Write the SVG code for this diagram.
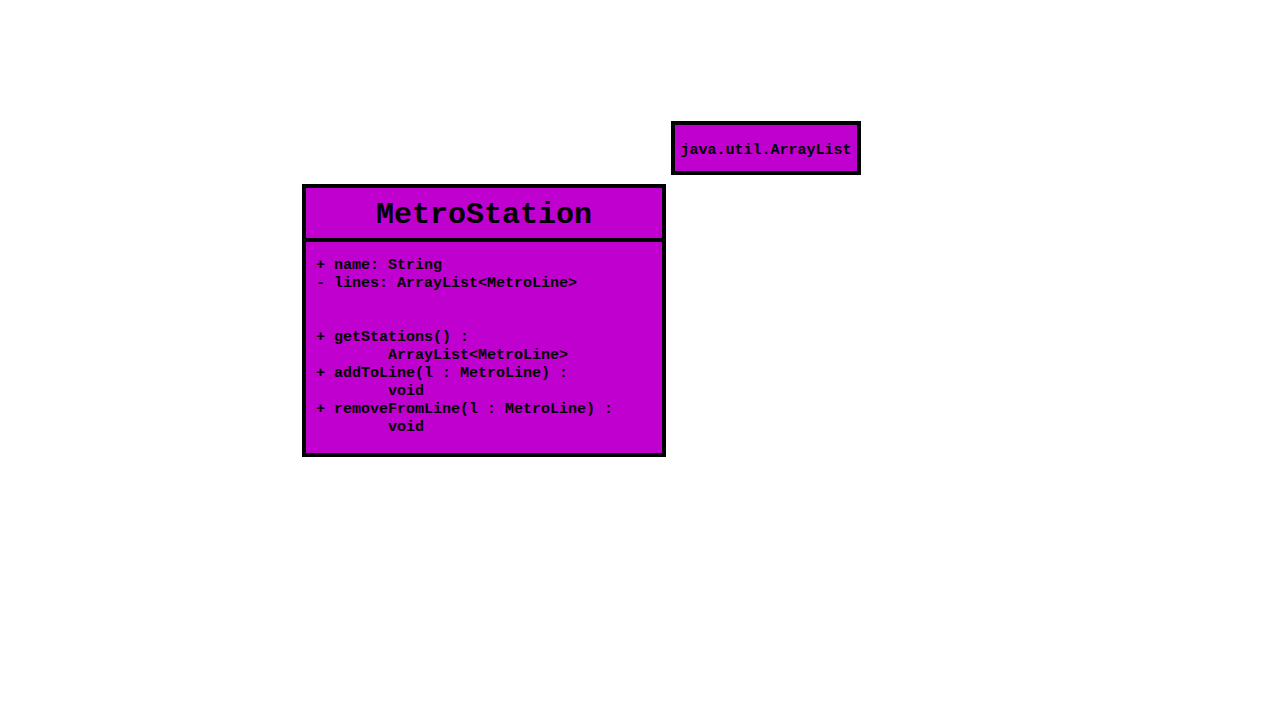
<svg xmlns="http://www.w3.org/2000/svg" width="1280" height="720" viewBox="0 0 1280 720">
<style>
.box{fill:#bf00cf;stroke:#000;stroke-width:4}
.t{font-family:"Liberation Mono","Courier New",monospace;font-weight:bold;fill:#000}
.m{font-size:15px}
.title{font-size:30px}
</style>
<rect width="1280" height="720" fill="#fff"/>
<g id="connectors"></g>
<g id="arraylist">
<rect class="box" x="673" y="123" width="186" height="50"/>
<text class="t m" x="766" y="154" text-anchor="middle">java.util.ArrayList</text>
</g>
<g id="metrostation">
<rect class="box" x="304" y="186" width="360" height="269"/>
<line x1="304" y1="240" x2="664" y2="240" stroke="#000" stroke-width="4"/>
<text class="t title" x="484" y="223" text-anchor="middle">MetroStation</text>
<text class="t m" x="316" y="269">+ name: String</text>
<text class="t m" x="316" y="287">- lines: ArrayList&lt;MetroLine&gt;</text>
<text class="t m" x="316" y="341">+ getStations() :</text>
<text class="t m" x="388" y="359">ArrayList&lt;MetroLine&gt;</text>
<text class="t m" x="316" y="377">+ addToLine(l : MetroLine) :</text>
<text class="t m" x="388" y="395">void</text>
<text class="t m" x="316" y="413">+ removeFromLine(l : MetroLine) :</text>
<text class="t m" x="388" y="431">void</text>
</g>
</svg>
